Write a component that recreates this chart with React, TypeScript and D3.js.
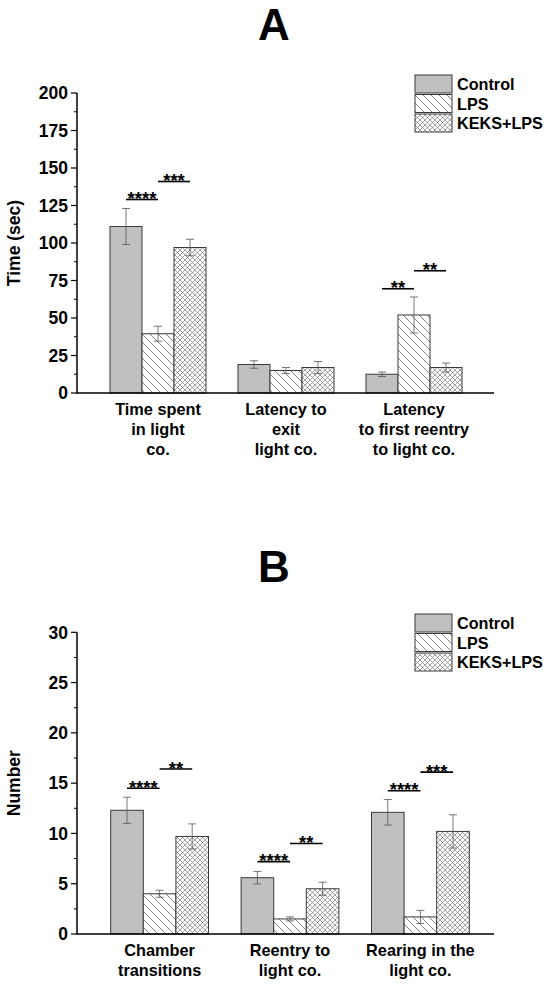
import { useEffect, useRef } from 'react';
import * as d3 from 'd3';

const groups = ['Control', 'LPS', 'KEKS+LPS'];

// panel A: time (sec)
const catsA = [['Time spent', 'in light', 'co.'], ['Latency to', 'exit', 'light co.'], ['Latency', 'to first reentry', 'to light co.']];
const meansA = [[111, 39.5, 97], [19, 15, 17], [12.5, 52, 17]];
const semA = [[12, 5, 5.5], [2.5, 2, 4], [1.5, 12, 3]];
const sigA = [
    { cat: 0, from: 0, to: 1, y: 129, label: '****' },
    { cat: 0, from: 1, to: 2, y: 141, label: '***' },
    { cat: 2, from: 0, to: 1, y: 69.5, label: '**' },
    { cat: 2, from: 1, to: 2, y: 81.5, label: '**' },
];

// panel B: counts
const catsB = [['Chamber', 'transitions'], ['Reentry to', 'light co.'], ['Rearing in the', 'light co.']];
const meansB = [[12.3, 4.0, 9.7], [5.6, 1.5, 4.5], [12.1, 1.7, 10.2]];
const semB = [[1.3, 0.35, 1.25], [0.62, 0.2, 0.65], [1.27, 0.65, 1.65]];
const sigB = [
    { cat: 0, from: 0, to: 1, y: 14.5, label: '****' },
    { cat: 0, from: 1, to: 2, y: 16.4, label: '**' },
    { cat: 1, from: 0, to: 1, y: 7.2, label: '****' },
    { cat: 1, from: 1, to: 2, y: 9.0, label: '**' },
    { cat: 2, from: 0, to: 1, y: 14.25, label: '****' },
    { cat: 2, from: 1, to: 2, y: 16.1, label: '***' },
];

const FONT = '"Liberation Sans", Arial, sans-serif';
const fills = ['#c0c0c0', 'url(#hatch)', 'url(#cross)'];

interface PanelOpts {
    letter: string;
    letterY: number;
    yLabel: string;
    cats: string[][];
    means: number[][];
    sem: number[][];
    sig: { cat: number; from: number; to: number; y: number; label: string }[];
    yMax: number;
    yStep: number;
    yRange: [number, number];
    xRange: [number, number];
    legendTop: number;
}

function drawPanel(svg: d3.Selection<SVGSVGElement, unknown, null, undefined>, o: PanelOpts) {
    const axisX0 = 77;
    const axisX1 = 494;
    const y = d3.scaleLinear().domain([0, o.yMax]).range(o.yRange);
    const x = d3.scaleBand<number>().domain(d3.range(o.cats.length)).range(o.xRange).paddingInner(0.25).paddingOuter(0);
    const xs = d3.scaleBand<number>().domain(d3.range(groups.length)).range([0, x.bandwidth()]);

    const g = svg.append('g').attr('font-family', FONT).attr('font-weight', 'bold');

    g.append('text')
        .attr('x', 274)
        .attr('y', o.letterY)
        .attr('text-anchor', 'middle')
        .attr('font-size', 44)
        .text(o.letter);

    // bars
    o.means.forEach((row, ci) => {
        row.forEach((v, gi) => {
            const bx = x(ci)! + xs(gi)!;
            g.append('rect')
                .attr('x', bx)
                .attr('y', y(v))
                .attr('width', xs.bandwidth())
                .attr('height', y(0) - y(v))
                .attr('fill', fills[gi])
                .attr('stroke', '#3a3a3a')
                .attr('stroke-width', 1);
            const cx = bx + xs.bandwidth() / 2;
            const e = o.sem[ci][gi];
            g.append('path')
                .attr('d', `M${cx},${y(v + e)}V${y(v - e)}M${cx - 4},${y(v + e)}h8M${cx - 4},${y(v - e)}h8`)
                .attr('stroke', '#555')
                .attr('stroke-width', 0.8)
                .attr('fill', 'none');
        });
        // category label
        const t = g.append('text')
            .attr('text-anchor', 'middle')
            .attr('font-size', 16.3);
        o.cats[ci].forEach((line, li) => {
            t.append('tspan')
                .attr('x', x(ci)! + x.bandwidth() / 2)
                .attr('y', o.yRange[0] + 22 + li * 20)
                .text(line);
        });
    });

    // significance bars
    o.sig.forEach(s => {
        const x1 = x(s.cat)! + xs(s.from)! + xs.bandwidth() / 2;
        const x2 = x(s.cat)! + xs(s.to)! + xs.bandwidth() / 2;
        g.append('line')
            .attr('x1', x1).attr('x2', x2)
            .attr('y1', y(s.y)).attr('y2', y(s.y))
            .attr('stroke', '#000')
            .attr('stroke-width', 1.6);
        g.append('text')
            .attr('x', (x1 + x2) / 2)
            .attr('y', y(s.y) + 5.5)
            .attr('text-anchor', 'middle')
            .attr('font-size', 18.5)
            .text(s.label);
    });

    // axes
    const major = d3.range(0, o.yMax + 0.001, o.yStep);
    const minor = d3.range(o.yStep / 2, o.yMax, o.yStep);
    g.append('line')
        .attr('x1', axisX0).attr('x2', axisX0)
        .attr('y1', y(o.yMax)).attr('y2', y(0))
        .attr('stroke', '#000').attr('stroke-width', 1.5);
    g.append('line')
        .attr('x1', axisX0 - 0.75).attr('x2', axisX1)
        .attr('y1', y(0)).attr('y2', y(0))
        .attr('stroke', '#000').attr('stroke-width', 1.5);
    g.selectAll(null).data(major).enter().append('line')
        .attr('x1', axisX0 - 6).attr('x2', axisX0)
        .attr('y1', d => y(d)).attr('y2', d => y(d))
        .attr('stroke', '#000').attr('stroke-width', 1.2);
    g.selectAll(null).data(minor).enter().append('line')
        .attr('x1', axisX0 - 3).attr('x2', axisX0)
        .attr('y1', d => y(d)).attr('y2', d => y(d))
        .attr('stroke', '#000').attr('stroke-width', 1);
    g.selectAll(null).data(major).enter().append('text')
        .attr('x', axisX0 - 9)
        .attr('y', d => y(d))
        .attr('dy', '0.36em')
        .attr('text-anchor', 'end')
        .attr('font-size', 17.5)
        .text(d => d3.format('d')(d));

    g.append('text')
        .attr('transform', `translate(20,${(o.yRange[0] + o.yRange[1]) / 2}) rotate(-90)`)
        .attr('text-anchor', 'middle')
        .attr('font-size', 17.5)
        .text(o.yLabel);

    // legend
    groups.forEach((name, gi) => {
        const ly = o.legendTop + gi * 19.5;
        g.append('rect')
            .attr('x', 415).attr('y', ly)
            .attr('width', 37).attr('height', 18)
            .attr('fill', fills[gi])
            .attr('stroke', '#3a3a3a')
            .attr('stroke-width', 1);
        g.append('text')
            .attr('x', 457).attr('y', ly + 15)
            .attr('font-size', 16.2)
            .text(name);
    });
}

export default function App() {
    const svgRef = useRef<SVGSVGElement>(null);
    const width = 550;
    const height = 984;

    useEffect(() => {
        if (!svgRef.current) return;
        const svg = d3.select(svgRef.current);
        svg.selectAll('*').remove();

        const defs = svg.append('defs');
        const hatch = defs.append('pattern')
            .attr('id', 'hatch')
            .attr('patternUnits', 'userSpaceOnUse')
            .attr('width', 8).attr('height', 8);
        hatch.append('rect').attr('width', 8).attr('height', 8).attr('fill', '#fff');
        hatch.append('path')
            .attr('d', 'M-4,4L4,12M0,0L8,8M4,-4L12,4')
            .attr('stroke', '#666').attr('stroke-width', 0.8);
        const cross = defs.append('pattern')
            .attr('id', 'cross')
            .attr('patternUnits', 'userSpaceOnUse')
            .attr('width', 5).attr('height', 5);
        cross.append('rect').attr('width', 5).attr('height', 5).attr('fill', '#fff');
        cross.append('path')
            .attr('d', 'M0,0L5,5M5,0L0,5M-1,4L1,6M4,-1L6,1M-1,1L1,-1M4,6L6,4')
            .attr('stroke', '#666').attr('stroke-width', 0.6);

        drawPanel(svg, {
            letter: 'A', letterY: 40, yLabel: 'Time (sec)',
            cats: catsA, means: meansA, sem: semA, sig: sigA,
            yMax: 200, yStep: 25, yRange: [393, 93], xRange: [110, 462], legendTop: 75,
        });
        drawPanel(svg, {
            letter: 'B', letterY: 582, yLabel: 'Number',
            cats: catsB, means: meansB, sem: semB, sig: sigB,
            yMax: 30, yStep: 5, yRange: [934, 632.3], xRange: [110.7, 469.3], legendTop: 614,
        });
    }, []);

    return (
        <div style={{ position: 'absolute', left: 0, top: 0, background: '#fff' }}>
            <svg ref={svgRef} width={width} height={height} style={{ display: 'block' }} />
        </div>
    );
}
